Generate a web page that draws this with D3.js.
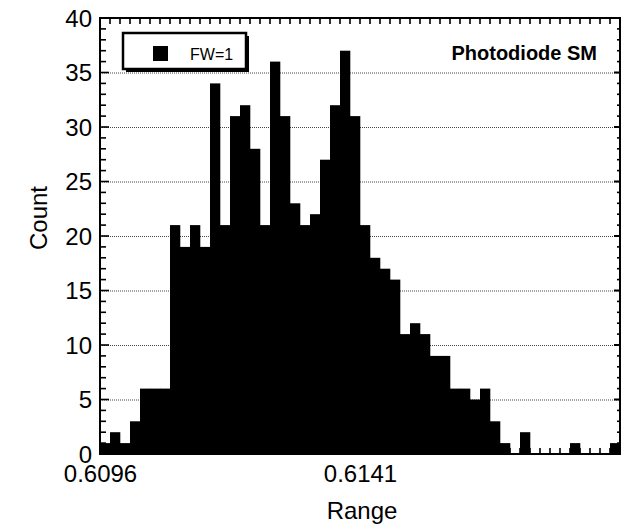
<!DOCTYPE html>
<html><head><meta charset="utf-8">
<script src="https://cdn.jsdelivr.net/npm/d3@7"></script>
<style>body{margin:0;background:#fff}svg{display:block}text{font-family:"Liberation Sans",Arial,sans-serif}</style>
</head><body><svg id="c" width="621" height="528"></svg>
<script>
const xMin = 0.6096, xMax = 0.6186;
const binCount = 52;
const counts = [1,2,1,3,6,6,6,21,19,21,19,34,21,31,32,28,21,36,31,23,21,22,27,32,37,31,21,18,17,16,11,12,11,9,9,6,6,5,6,3,1,0,2,0,0,0,0,1,0,0,0,1];
const xTickLabels = [0.6096, 0.6141];
const yMajor = [0,5,10,15,20,25,30,35,40];
const legendLabel = "FW=1";
const title = "Photodiode SM";

const svg = d3.select("#c");
const L=100, R=620, T=18, B=454;
const x = d3.scaleLinear().domain([xMin,xMax]).range([L,R]);
const y = d3.scaleLinear().domain([0,40]).range([B,T]);
const bw = (xMax-xMin)/binCount;
const bins = counts.map((c,i)=>({x0:xMin+i*bw, x1:xMin+(i+1)*bw, c}));

// gridlines
svg.append("g").selectAll("line").data(yMajor.filter(v=>v>0&&v<40)).join("line")
  .attr("x1",L).attr("x2",R).attr("y1",d=>y(d)+0.5).attr("y2",d=>y(d)+0.5)
  .attr("stroke","#444").attr("stroke-width",1).attr("stroke-dasharray","1,1");

// bars
svg.append("g").selectAll("rect").data(bins.filter(b=>b.c>0)).join("rect")
  .attr("x",d=>x(d.x0)).attr("width",d=>x(d.x1)-x(d.x0)+0.3)
  .attr("y",d=>y(d.c)).attr("height",d=>y(0)-y(d.c)).attr("fill","#000");

// frame
svg.append("rect").attr("x",L).attr("y",T).attr("width",R-L).attr("height",B-T)
  .attr("fill","none").attr("stroke","#000").attr("stroke-width",2);

// ticks
const edges = d3.range(binCount+1).map(i=>xMin+i*bw);
const yMinor = d3.range(0,41,1);
const tg = svg.append("g");
edges.forEach(v=>{
  tg.append("rect").attr("x",x(v)-0.8).attr("y",T).attr("width",1.6).attr("height",6).attr("fill","#000");
  tg.append("rect").attr("x",x(v)-0.8).attr("y",B-6).attr("width",1.6).attr("height",6).attr("fill","#000");
});
yMinor.forEach(v=>{
  const maj = v%5===0;
  tg.append("rect").attr("x",L).attr("y",y(v)-0.8).attr("width",maj?9:6).attr("height",1.6).attr("fill","#000");
  tg.append("rect").attr("x",R-(maj?6:3)).attr("y",y(v)-(maj?1:0.8)).attr("width",maj?6:3).attr("height",maj?2:1.6).attr("fill","#000");
});

// tick labels via axes
const gBotL = svg.append("g").attr("transform",`translate(0,${B})`)
  .call(d3.axisBottom(x).tickValues(xTickLabels).tickSize(0).tickPadding(11).tickFormat(d3.format(".4f")));
const gL = svg.append("g").attr("transform",`translate(${L},0)`)
  .call(d3.axisLeft(y).tickValues(yMajor).tickSize(0).tickPadding(8).tickFormat(d3.format("d")));
[gBotL,gL].forEach(g=>{
  g.select(".domain").remove();
  g.selectAll("text").attr("font-size",24).attr("fill","#000")
   .style("font-family","'Liberation Sans',Arial,sans-serif");
});
gL.selectAll("text").attr("dy","0.35em");

// axis titles
svg.append("text").attr("x",362).attr("y",519).attr("text-anchor","middle")
  .attr("font-size",24).text("Range");
svg.append("text").attr("transform","translate(47,218) rotate(-90)").attr("text-anchor","middle")
  .attr("font-size",24).text("Count");

// legend
svg.append("rect").attr("x",126).attr("y",36).attr("width",123).attr("height",36).attr("fill","#000");
svg.append("rect").attr("x",123).attr("y",33).attr("width",123).attr("height",36)
  .attr("fill","#fff").attr("stroke","#000").attr("stroke-width",2.5);
svg.append("rect").attr("x",153).attr("y",46).attr("width",15).attr("height",15).attr("fill","#000");
svg.append("text").attr("x",190).attr("y",60).attr("font-size",16).text(legendLabel);
svg.append("text").attr("x",597).attr("y",60).attr("text-anchor","end")
  .attr("font-size",20).attr("font-weight","bold").text(title);
</script></body></html>
